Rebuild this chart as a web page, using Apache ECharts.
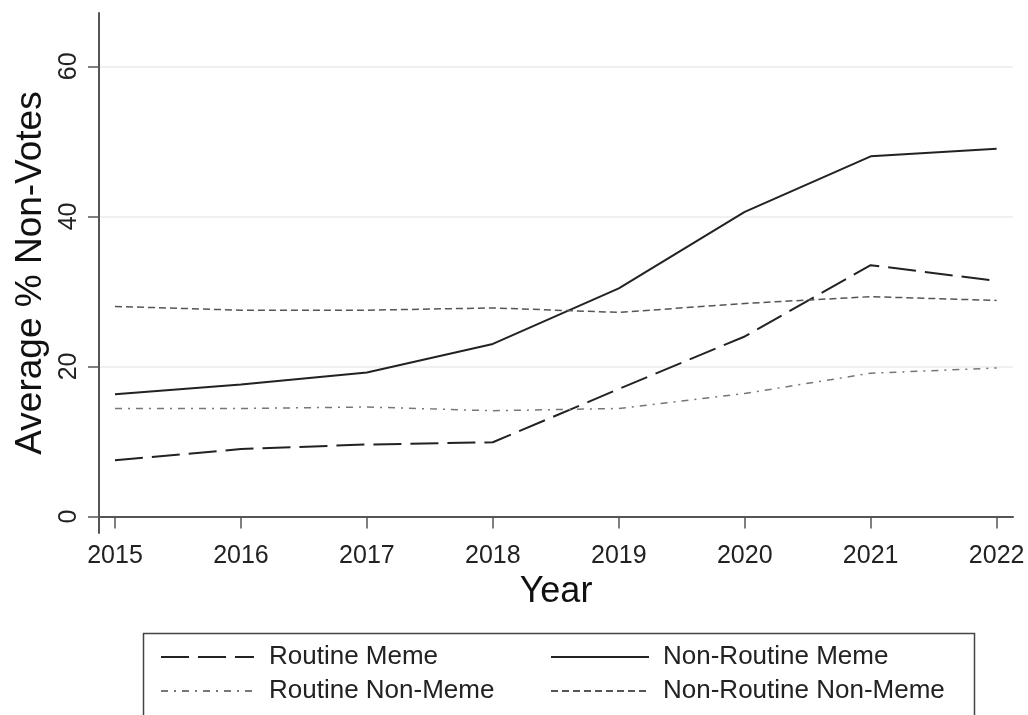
<!DOCTYPE html>
<html>
<head>
<meta charset="utf-8">
<script src="https://cdn.jsdelivr.net/npm/echarts@6/dist/echarts.min.js"></script>
<style>
html,body{margin:0;padding:0;background:#fff;}
#chart{width:1028px;height:715px;}
</style>
</head>
<body>
<div id="chart"></div>
<script>
const years = [2015, 2016, 2017, 2018, 2019, 2020, 2021, 2022];
const yTicks = [0, 20, 40, 60];
const routineMeme = [7.5, 9.0, 9.6, 9.9, 17.0, 24.0, 33.5, 31.4];
const nonRoutineMeme = [16.3, 17.6, 19.2, 23.0, 30.4, 40.6, 48.0, 49.0];
const routineNonMeme = [14.4, 14.4, 14.6, 14.1, 14.4, 16.4, 19.1, 19.8];
const nonRoutineNonMeme = [28.0, 27.5, 27.5, 27.8, 27.2, 28.4, 29.3, 28.8];

const FONT = '"Liberation Sans", Arial, Helvetica, sans-serif';
const pairs = arr => years.map((y, i) => [y, arr[i]]);

function mkSeries(name, arr, color, width, dash) {
  return {
    name: name, type: 'line', data: pairs(arr),
    symbol: 'none', showSymbol: false, silent: true,
    lineStyle: { color: color, width: width, type: dash, cap: 'butt' },
    itemStyle: { color: color },
    emphasis: { disabled: true }
  };
}

const legendCommon = {
  orient: 'vertical', top: 638,
  itemHeight: 16, itemGap: 6,
  selectedMode: false,
  itemStyle: { opacity: 0, borderWidth: 0 },
  textStyle: { fontSize: 26, color: '#222', fontFamily: FONT, lineHeight: 28 }
};

const chart = echarts.init(document.getElementById('chart'), null, { renderer: 'canvas' });
chart.setOption({
  animation: false,
  backgroundColor: '#ffffff',
  textStyle: { fontFamily: FONT },
  grid: { left: 99, right: 15, top: 13, bottom: 182, containLabel: false },
  xAxis: {
    type: 'value', min: 2014.873, max: 2022.13,
    name: 'Year', nameLocation: 'middle', nameGap: 40,
    nameTextStyle: { fontSize: 36, color: '#111', fontFamily: FONT },
    axisLine: { show: true, lineStyle: { color: '#555', width: 2 } },
    axisTick: { show: true, length: 12, customValues: years, lineStyle: { color: '#555', width: 1.5 } },
    axisLabel: { customValues: years, fontSize: 25, color: '#222', margin: 11, fontFamily: FONT, formatter: v => String(v) },
    splitLine: { show: false }
  },
  yAxis: {
    type: 'value', min: -2.19, max: 67.1,
    name: 'Average % Non-Votes', nameLocation: 'middle', nameGap: 46,
    nameTextStyle: { fontSize: 37, color: '#111', fontFamily: FONT },
    axisLine: { show: true, lineStyle: { color: '#555', width: 2 } },
    axisTick: { show: true, length: 11, customValues: yTicks, lineStyle: { color: '#555', width: 1.5 } },
    axisLabel: { customValues: yTicks, rotate: 90, fontSize: 25, color: '#222', margin: 17, fontFamily: FONT },
    splitLine: { show: true, lineStyle: { color: '#ebebeb', width: 1.5 } }
  },
  legend: [
    Object.assign({}, legendCommon, {
      left: 155, itemWidth: 93,
      data: ['Routine Meme', 'Routine Non-Meme'],
      textStyle: Object.assign({}, legendCommon.textStyle, { padding: [0, 0, 0, 10] })
    }),
    Object.assign({}, legendCommon, {
      left: 545, itemWidth: 98,
      data: ['Non-Routine Meme', 'Non-Routine Non-Meme'],
      textStyle: Object.assign({}, legendCommon.textStyle, { padding: [0, 0, 0, 9] })
    })
  ],
  graphic: [
    { type: 'rect', left: 141, top: 631, shape: { width: 831, height: 120 },
      style: { fill: 'none', stroke: '#444', lineWidth: 1.5 }, silent: true }
  ],
  series: [
    mkSeries('Routine Meme', routineMeme, '#222', 2, [28, 9]),
    mkSeries('Non-Routine Meme', nonRoutineMeme, '#222', 2, 'solid'),
    mkSeries('Routine Non-Meme', routineNonMeme, '#777', 1.5, [7, 6, 2, 6]),
    mkSeries('Non-Routine Non-Meme', nonRoutineNonMeme, '#555', 1.5, [7, 4])
  ]
});
</script>
</body>
</html>
